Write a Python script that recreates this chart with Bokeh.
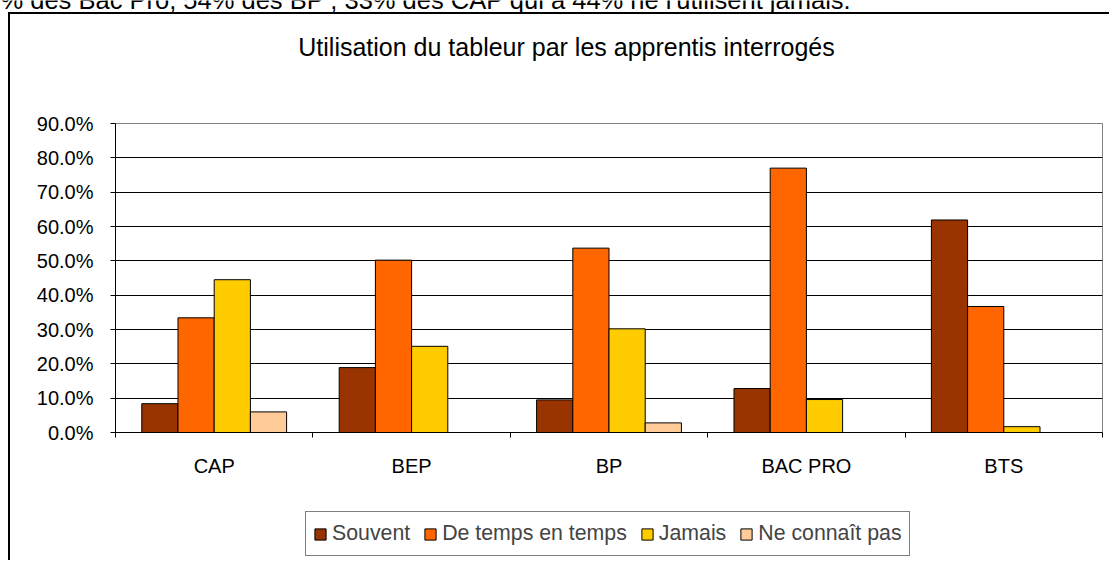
from bokeh.plotting import figure
from bokeh.models import (Range1d, FixedTicker, Legend, LegendItem, Label,
                          PrintfTickFormatter)
from bokeh.embed import file_html
from bokeh.resources import INLINE

# ---------------- data ----------------
categories = ["CAP", "BEP", "BP", "BAC PRO", "BTS"]
series_names = ["Souvent", "De temps en temps", "Jamais", "Ne connaît pas"]
souvent = [8.4, 18.9, 9.5, 12.8, 61.9]
de_temps_en_temps = [33.4, 50.2, 53.7, 77.0, 36.7]
jamais = [44.5, 25.1, 30.2, 9.6, 1.7]
ne_connait_pas = [6.0, 0.0, 2.8, 0.0, 0.0]
y_ticks = [0, 10, 20, 30, 40, 50, 60, 70, 80, 90]
title_text = "Utilisation du tableur par les apprentis interrogés"
top_text = "% des Bac Pro, 54% des BP , 33% des CAP  qui à 44% ne l'utilisent jamais."

colors = ["#993300", "#FF6600", "#FFCC00", "#FFCC99"]
FONT = "Liberation Sans"
all_series = [souvent, de_temps_en_temps, jamais, ne_connait_pas]
bw = 0.1834

# ---------------- main chart ----------------
CX, CY = 10, 14          # canvas origin, inside the chart-area border
W, H = 1101, 548
FL, FT, FR, FB = 115, 123, 1102, 432   # plot-area edges in page pixels

p = figure(width=W, height=H, x_range=Range1d(0, 5), y_range=Range1d(0, 90),
           output_backend="svg", toolbar_location=None, title_location=None,
           min_border_left=FL - CX, min_border_right=CX + W - FR,
           min_border_top=FT - CY, min_border_bottom=CY + H - FB)
p.styles = {"position": "absolute", "left": f"{CX}px", "top": f"{CY}px",
            "box-shadow": "-2px -2px 0px 0px #000000"}
p.background_fill_color = "white"
p.border_fill_color = "white"
p.outline_line_color = "#808080"
p.outline_line_width = 1

p.yaxis.ticker = FixedTicker(ticks=y_ticks)
p.yaxis.formatter = PrintfTickFormatter(format="%.1f%%")
p.yaxis.major_tick_out = 5
p.yaxis.major_tick_in = 0
p.yaxis.minor_tick_out = 0
p.yaxis.minor_tick_in = 0
p.yaxis.axis_line_color = "black"
p.yaxis.major_tick_line_color = "black"
p.yaxis.major_label_text_font = FONT
p.yaxis.major_label_text_font_size = "20px"
p.yaxis.major_label_text_color = "black"
p.yaxis.major_label_standoff = 17

xt = [i + 0.5 for i in range(len(categories))]
p.xaxis.ticker = FixedTicker(ticks=xt, minor_ticks=list(range(len(categories) + 1)))
p.xaxis.major_label_overrides = {x: c for x, c in zip(xt, categories)}
p.xaxis.major_tick_out = 0
p.xaxis.major_tick_in = 0
p.xaxis.minor_tick_out = 5
p.xaxis.minor_tick_in = 0
p.xaxis.minor_tick_line_color = "black"
p.xaxis.axis_line_color = "black"
p.xaxis.major_label_text_font = FONT
p.xaxis.major_label_text_font_size = "20px"
p.xaxis.major_label_text_color = "black"
p.xaxis.major_label_standoff = 17

p.xgrid.visible = False
p.ygrid.ticker = FixedTicker(ticks=y_ticks[1:-1])
p.ygrid.grid_line_color = "black"
p.ygrid.grid_line_width = 1

for k, (vals, col) in enumerate(zip(all_series, colors)):
    xs = [i + 0.5 + (k - 1.5) * bw for i in range(len(categories))]
    p.vbar(x=xs, top=vals, bottom=0, width=bw, fill_color=col,
           line_color="black", line_width=1)

# ---------------- overlay canvas: titles and legend ----------------
OW, OH = 1111, 562
po = figure(width=OW, height=OH, x_range=Range1d(-20, -15), y_range=Range1d(-20, -10),
            output_backend="svg", toolbar_location=None, title_location=None,
            x_axis_location=None, y_axis_location=None, min_border=0)
po.styles = {"position": "absolute", "left": "0px", "top": "0px"}
po.outline_line_color = None
po.background_fill_alpha = 0
po.border_fill_alpha = 0
po.xgrid.visible = False
po.ygrid.visible = False

items = []
for k, (name, vals, col) in enumerate(zip(series_names, all_series, colors)):
    xs = [i + 0.5 + (k - 1.5) * bw for i in range(len(categories))]
    # hidden copy of the bars, used only for the legend swatches
    r = po.vbar(x=xs, top=vals, bottom=0, width=bw, fill_color=col,
                line_color="black", line_width=1, visible=False)
    items.append(LegendItem(label=name, renderers=[r]))
legend = Legend(items=items, orientation="horizontal", location=(305, 6),
                border_line_color="black", border_line_width=1,
                background_fill_color="white", background_fill_alpha=1,
                glyph_width=14, glyph_height=14, label_text_font=FONT,
                label_text_font_size="21.3px", label_standoff=5, spacing=13,
                label_height=29, padding=7, margin=0,
                inactive_fill_alpha=0)
po.add_layout(legend, "center")

po.add_layout(Label(x=566, y=OH - 46, x_units="screen", y_units="screen",
                    text=title_text, text_align="center", text_baseline="alphabetic",
                    text_font=FONT, text_font_size="25px", text_color="black"))
po.add_layout(Label(x=0, y=OH + 1, x_units="screen", y_units="screen",
                    text=top_text, text_align="left", text_baseline="alphabetic",
                    text_font=FONT, text_font_size="25.5px", text_color="black"))

open("out.html", "w").write(file_html([p, po], INLINE))
